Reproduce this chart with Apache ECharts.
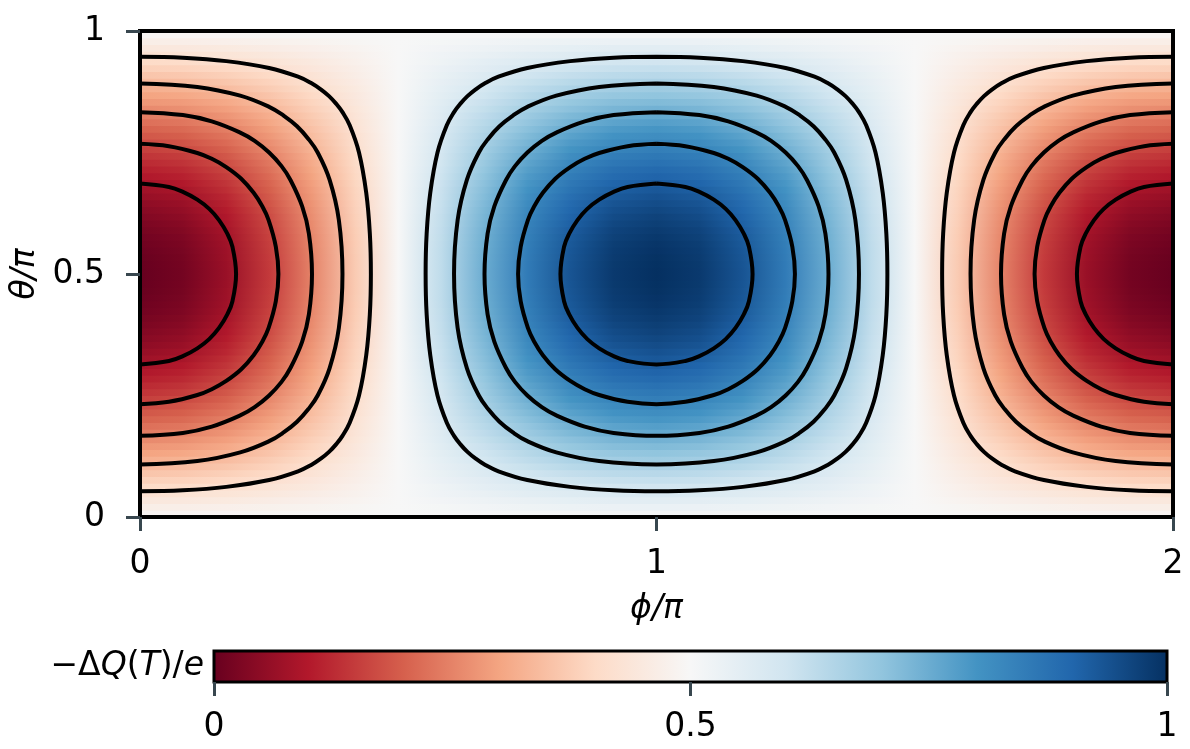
<!DOCTYPE html>
<html>
<head>
<meta charset="utf-8">
<script src="https://cdn.jsdelivr.net/npm/echarts@6/dist/echarts.min.js"></script>
<style>
  html, body { margin: 0; padding: 0; background: #fff; }
  #chart { width: 1190px; height: 749px; }
</style>
</head>
<body>
<div id="chart"></div>
<script>
// phi sample positions (in units of pi) for each row of the map
const phiSamples = [0, 0.083, 0.167, 0.25, 0.333, 0.417, 0.5, 0.583, 0.667, 0.75, 0.833, 0.917, 1,
  1.083, 1.167, 1.25, 1.333, 1.417, 1.5, 1.583, 1.667, 1.75, 1.833, 1.917, 2];

// -dQ(T)/e, one row per theta strip, from theta = 0 (bottom) to theta = pi (top)
const heatRows = [
  [0.489,0.490,0.491,0.492,0.495,0.497,0.5,0.503,0.505,0.508,0.509,0.510,0.511,0.510,0.509,0.508,0.505,0.503,0.5,0.497,0.495,0.492,0.491,0.490,0.489],
  [0.467,0.468,0.472,0.477,0.484,0.492,0.5,0.508,0.516,0.523,0.528,0.532,0.533,0.532,0.528,0.523,0.516,0.508,0.5,0.492,0.484,0.477,0.472,0.468,0.467],
  [0.446,0.447,0.453,0.462,0.473,0.486,0.5,0.514,0.527,0.538,0.547,0.553,0.554,0.553,0.547,0.538,0.527,0.514,0.5,0.486,0.473,0.462,0.453,0.447,0.446],
  [0.424,0.427,0.434,0.446,0.462,0.480,0.5,0.520,0.538,0.554,0.566,0.573,0.576,0.573,0.566,0.554,0.538,0.520,0.5,0.480,0.462,0.446,0.434,0.427,0.424],
  [0.402,0.406,0.416,0.431,0.451,0.475,0.5,0.525,0.549,0.569,0.584,0.594,0.598,0.594,0.584,0.569,0.549,0.525,0.5,0.475,0.451,0.431,0.416,0.406,0.402],
  [0.381,0.385,0.397,0.416,0.441,0.469,0.5,0.531,0.559,0.584,0.603,0.615,0.619,0.615,0.603,0.584,0.559,0.531,0.5,0.469,0.441,0.416,0.397,0.385,0.381],
  [0.360,0.365,0.379,0.401,0.430,0.464,0.5,0.536,0.570,0.599,0.621,0.635,0.640,0.635,0.621,0.599,0.570,0.536,0.5,0.464,0.430,0.401,0.379,0.365,0.360],
  [0.339,0.345,0.361,0.386,0.420,0.458,0.5,0.542,0.580,0.614,0.639,0.655,0.661,0.655,0.639,0.614,0.580,0.542,0.5,0.458,0.420,0.386,0.361,0.345,0.339],
  [0.319,0.325,0.343,0.372,0.409,0.453,0.5,0.547,0.591,0.628,0.657,0.675,0.681,0.675,0.657,0.628,0.591,0.547,0.5,0.453,0.409,0.372,0.343,0.325,0.319],
  [0.299,0.306,0.326,0.358,0.399,0.448,0.5,0.552,0.601,0.642,0.674,0.694,0.701,0.694,0.674,0.642,0.601,0.552,0.5,0.448,0.399,0.358,0.326,0.306,0.299],
  [0.279,0.286,0.308,0.344,0.389,0.443,0.5,0.557,0.611,0.656,0.692,0.714,0.721,0.714,0.692,0.656,0.611,0.557,0.5,0.443,0.389,0.344,0.308,0.286,0.279],
  [0.260,0.268,0.292,0.330,0.380,0.438,0.5,0.562,0.620,0.670,0.708,0.732,0.740,0.732,0.708,0.670,0.620,0.562,0.5,0.438,0.380,0.330,0.292,0.268,0.260],
  [0.241,0.249,0.275,0.317,0.370,0.433,0.5,0.567,0.630,0.683,0.725,0.751,0.759,0.751,0.725,0.683,0.630,0.567,0.5,0.433,0.370,0.317,0.275,0.249,0.241],
  [0.222,0.232,0.259,0.304,0.361,0.428,0.5,0.572,0.639,0.696,0.741,0.768,0.778,0.768,0.741,0.696,0.639,0.572,0.5,0.428,0.361,0.304,0.259,0.232,0.222],
  [0.204,0.214,0.244,0.291,0.352,0.424,0.5,0.576,0.648,0.709,0.756,0.786,0.796,0.786,0.756,0.709,0.648,0.576,0.5,0.424,0.352,0.291,0.244,0.214,0.204],
  [0.187,0.198,0.229,0.279,0.344,0.419,0.5,0.581,0.656,0.721,0.771,0.802,0.813,0.802,0.771,0.721,0.656,0.581,0.5,0.419,0.344,0.279,0.229,0.198,0.187],
  [0.170,0.182,0.215,0.267,0.335,0.415,0.5,0.585,0.665,0.733,0.785,0.818,0.830,0.818,0.785,0.733,0.665,0.585,0.5,0.415,0.335,0.267,0.215,0.182,0.170],
  [0.154,0.166,0.201,0.256,0.327,0.411,0.5,0.589,0.673,0.744,0.799,0.834,0.846,0.834,0.799,0.744,0.673,0.589,0.5,0.411,0.327,0.256,0.201,0.166,0.154],
  [0.139,0.151,0.187,0.245,0.319,0.407,0.5,0.593,0.681,0.755,0.813,0.849,0.861,0.849,0.813,0.755,0.681,0.593,0.5,0.407,0.319,0.245,0.187,0.151,0.139],
  [0.124,0.137,0.174,0.234,0.312,0.403,0.5,0.597,0.688,0.766,0.826,0.863,0.876,0.863,0.826,0.766,0.688,0.597,0.5,0.403,0.312,0.234,0.174,0.137,0.124],
  [0.110,0.123,0.162,0.224,0.305,0.399,0.5,0.601,0.695,0.776,0.838,0.877,0.890,0.877,0.838,0.776,0.695,0.601,0.5,0.399,0.305,0.224,0.162,0.123,0.110],
  [0.097,0.111,0.151,0.215,0.298,0.396,0.5,0.604,0.702,0.785,0.849,0.889,0.903,0.889,0.849,0.785,0.702,0.604,0.5,0.396,0.298,0.215,0.151,0.111,0.097],
  [0.084,0.098,0.140,0.206,0.292,0.392,0.5,0.608,0.708,0.794,0.860,0.902,0.916,0.902,0.860,0.794,0.708,0.608,0.5,0.392,0.292,0.206,0.140,0.098,0.084],
  [0.073,0.087,0.130,0.198,0.286,0.389,0.5,0.611,0.714,0.802,0.870,0.913,0.927,0.913,0.870,0.802,0.714,0.611,0.5,0.389,0.286,0.198,0.130,0.087,0.073],
  [0.062,0.077,0.120,0.190,0.281,0.387,0.5,0.613,0.719,0.810,0.880,0.923,0.938,0.923,0.880,0.810,0.719,0.613,0.5,0.387,0.281,0.190,0.120,0.077,0.062],
  [0.052,0.067,0.112,0.183,0.276,0.384,0.5,0.616,0.724,0.817,0.888,0.933,0.948,0.933,0.888,0.817,0.724,0.616,0.5,0.384,0.276,0.183,0.112,0.067,0.052],
  [0.042,0.058,0.104,0.176,0.271,0.382,0.5,0.618,0.729,0.824,0.896,0.942,0.958,0.942,0.896,0.824,0.729,0.618,0.5,0.382,0.271,0.176,0.104,0.058,0.042],
  [0.034,0.050,0.096,0.170,0.267,0.379,0.5,0.621,0.733,0.830,0.904,0.950,0.966,0.950,0.904,0.830,0.733,0.621,0.5,0.379,0.267,0.170,0.096,0.050,0.034],
  [0.027,0.043,0.090,0.165,0.263,0.378,0.5,0.622,0.737,0.835,0.910,0.957,0.973,0.957,0.910,0.835,0.737,0.622,0.5,0.378,0.263,0.165,0.090,0.043,0.027],
  [0.020,0.036,0.084,0.161,0.260,0.376,0.5,0.624,0.740,0.839,0.916,0.964,0.980,0.964,0.916,0.839,0.740,0.624,0.5,0.376,0.260,0.161,0.084,0.036,0.020],
  [0.014,0.031,0.079,0.157,0.257,0.374,0.5,0.626,0.743,0.843,0.921,0.969,0.986,0.969,0.921,0.843,0.743,0.626,0.5,0.374,0.257,0.157,0.079,0.031,0.014],
  [0.010,0.026,0.075,0.153,0.255,0.373,0.5,0.627,0.745,0.847,0.925,0.974,0.990,0.974,0.925,0.847,0.745,0.627,0.5,0.373,0.255,0.153,0.075,0.026,0.010],
  [0.006,0.023,0.072,0.151,0.253,0.372,0.5,0.628,0.747,0.849,0.928,0.977,0.994,0.977,0.928,0.849,0.747,0.628,0.5,0.372,0.253,0.151,0.072,0.023,0.006],
  [0.003,0.020,0.070,0.149,0.252,0.371,0.5,0.629,0.748,0.851,0.930,0.980,0.997,0.980,0.930,0.851,0.748,0.629,0.5,0.371,0.252,0.149,0.070,0.020,0.003],
  [0.001,0.018,0.068,0.147,0.251,0.371,0.5,0.629,0.749,0.853,0.932,0.982,0.999,0.982,0.932,0.853,0.749,0.629,0.5,0.371,0.251,0.147,0.068,0.018,0.001],
  [0.000,0.017,0.067,0.146,0.250,0.371,0.5,0.629,0.750,0.854,0.933,0.983,1.000,0.983,0.933,0.854,0.750,0.629,0.5,0.371,0.250,0.146,0.067,0.017,0.000],
  [0.000,0.017,0.067,0.146,0.250,0.371,0.5,0.629,0.750,0.854,0.933,0.983,1.000,0.983,0.933,0.854,0.750,0.629,0.5,0.371,0.250,0.146,0.067,0.017,0.000],
  [0.001,0.018,0.068,0.147,0.251,0.371,0.5,0.629,0.749,0.853,0.932,0.982,0.999,0.982,0.932,0.853,0.749,0.629,0.5,0.371,0.251,0.147,0.068,0.018,0.001],
  [0.003,0.020,0.070,0.149,0.252,0.371,0.5,0.629,0.748,0.851,0.930,0.980,0.997,0.980,0.930,0.851,0.748,0.629,0.5,0.371,0.252,0.149,0.070,0.020,0.003],
  [0.006,0.023,0.072,0.151,0.253,0.372,0.5,0.628,0.747,0.849,0.928,0.977,0.994,0.977,0.928,0.849,0.747,0.628,0.5,0.372,0.253,0.151,0.072,0.023,0.006],
  [0.010,0.026,0.075,0.153,0.255,0.373,0.5,0.627,0.745,0.847,0.925,0.974,0.990,0.974,0.925,0.847,0.745,0.627,0.5,0.373,0.255,0.153,0.075,0.026,0.010],
  [0.014,0.031,0.079,0.157,0.257,0.374,0.5,0.626,0.743,0.843,0.921,0.969,0.986,0.969,0.921,0.843,0.743,0.626,0.5,0.374,0.257,0.157,0.079,0.031,0.014],
  [0.020,0.036,0.084,0.161,0.260,0.376,0.5,0.624,0.740,0.839,0.916,0.964,0.980,0.964,0.916,0.839,0.740,0.624,0.5,0.376,0.260,0.161,0.084,0.036,0.020],
  [0.027,0.043,0.090,0.165,0.263,0.378,0.5,0.622,0.737,0.835,0.910,0.957,0.973,0.957,0.910,0.835,0.737,0.622,0.5,0.378,0.263,0.165,0.090,0.043,0.027],
  [0.034,0.050,0.096,0.170,0.267,0.379,0.5,0.621,0.733,0.830,0.904,0.950,0.966,0.950,0.904,0.830,0.733,0.621,0.5,0.379,0.267,0.170,0.096,0.050,0.034],
  [0.042,0.058,0.104,0.176,0.271,0.382,0.5,0.618,0.729,0.824,0.896,0.942,0.958,0.942,0.896,0.824,0.729,0.618,0.5,0.382,0.271,0.176,0.104,0.058,0.042],
  [0.052,0.067,0.112,0.183,0.276,0.384,0.5,0.616,0.724,0.817,0.888,0.933,0.948,0.933,0.888,0.817,0.724,0.616,0.5,0.384,0.276,0.183,0.112,0.067,0.052],
  [0.062,0.077,0.120,0.190,0.281,0.387,0.5,0.613,0.719,0.810,0.880,0.923,0.938,0.923,0.880,0.810,0.719,0.613,0.5,0.387,0.281,0.190,0.120,0.077,0.062],
  [0.073,0.087,0.130,0.198,0.286,0.389,0.5,0.611,0.714,0.802,0.870,0.913,0.927,0.913,0.870,0.802,0.714,0.611,0.5,0.389,0.286,0.198,0.130,0.087,0.073],
  [0.084,0.098,0.140,0.206,0.292,0.392,0.5,0.608,0.708,0.794,0.860,0.902,0.916,0.902,0.860,0.794,0.708,0.608,0.5,0.392,0.292,0.206,0.140,0.098,0.084],
  [0.097,0.111,0.151,0.215,0.298,0.396,0.5,0.604,0.702,0.785,0.849,0.889,0.903,0.889,0.849,0.785,0.702,0.604,0.5,0.396,0.298,0.215,0.151,0.111,0.097],
  [0.110,0.123,0.162,0.224,0.305,0.399,0.5,0.601,0.695,0.776,0.838,0.877,0.890,0.877,0.838,0.776,0.695,0.601,0.5,0.399,0.305,0.224,0.162,0.123,0.110],
  [0.124,0.137,0.174,0.234,0.312,0.403,0.5,0.597,0.688,0.766,0.826,0.863,0.876,0.863,0.826,0.766,0.688,0.597,0.5,0.403,0.312,0.234,0.174,0.137,0.124],
  [0.139,0.151,0.187,0.245,0.319,0.407,0.5,0.593,0.681,0.755,0.813,0.849,0.861,0.849,0.813,0.755,0.681,0.593,0.5,0.407,0.319,0.245,0.187,0.151,0.139],
  [0.154,0.166,0.201,0.256,0.327,0.411,0.5,0.589,0.673,0.744,0.799,0.834,0.846,0.834,0.799,0.744,0.673,0.589,0.5,0.411,0.327,0.256,0.201,0.166,0.154],
  [0.170,0.182,0.215,0.267,0.335,0.415,0.5,0.585,0.665,0.733,0.785,0.818,0.830,0.818,0.785,0.733,0.665,0.585,0.5,0.415,0.335,0.267,0.215,0.182,0.170],
  [0.187,0.198,0.229,0.279,0.344,0.419,0.5,0.581,0.656,0.721,0.771,0.802,0.813,0.802,0.771,0.721,0.656,0.581,0.5,0.419,0.344,0.279,0.229,0.198,0.187],
  [0.204,0.214,0.244,0.291,0.352,0.424,0.5,0.576,0.648,0.709,0.756,0.786,0.796,0.786,0.756,0.709,0.648,0.576,0.5,0.424,0.352,0.291,0.244,0.214,0.204],
  [0.222,0.232,0.259,0.304,0.361,0.428,0.5,0.572,0.639,0.696,0.741,0.768,0.778,0.768,0.741,0.696,0.639,0.572,0.5,0.428,0.361,0.304,0.259,0.232,0.222],
  [0.241,0.249,0.275,0.317,0.370,0.433,0.5,0.567,0.630,0.683,0.725,0.751,0.759,0.751,0.725,0.683,0.630,0.567,0.5,0.433,0.370,0.317,0.275,0.249,0.241],
  [0.260,0.268,0.292,0.330,0.380,0.438,0.5,0.562,0.620,0.670,0.708,0.732,0.740,0.732,0.708,0.670,0.620,0.562,0.5,0.438,0.380,0.330,0.292,0.268,0.260],
  [0.279,0.286,0.308,0.344,0.389,0.443,0.5,0.557,0.611,0.656,0.692,0.714,0.721,0.714,0.692,0.656,0.611,0.557,0.5,0.443,0.389,0.344,0.308,0.286,0.279],
  [0.299,0.306,0.326,0.358,0.399,0.448,0.5,0.552,0.601,0.642,0.674,0.694,0.701,0.694,0.674,0.642,0.601,0.552,0.5,0.448,0.399,0.358,0.326,0.306,0.299],
  [0.319,0.325,0.343,0.372,0.409,0.453,0.5,0.547,0.591,0.628,0.657,0.675,0.681,0.675,0.657,0.628,0.591,0.547,0.5,0.453,0.409,0.372,0.343,0.325,0.319],
  [0.339,0.345,0.361,0.386,0.420,0.458,0.5,0.542,0.580,0.614,0.639,0.655,0.661,0.655,0.639,0.614,0.580,0.542,0.5,0.458,0.420,0.386,0.361,0.345,0.339],
  [0.360,0.365,0.379,0.401,0.430,0.464,0.5,0.536,0.570,0.599,0.621,0.635,0.640,0.635,0.621,0.599,0.570,0.536,0.5,0.464,0.430,0.401,0.379,0.365,0.360],
  [0.381,0.385,0.397,0.416,0.441,0.469,0.5,0.531,0.559,0.584,0.603,0.615,0.619,0.615,0.603,0.584,0.559,0.531,0.5,0.469,0.441,0.416,0.397,0.385,0.381],
  [0.402,0.406,0.416,0.431,0.451,0.475,0.5,0.525,0.549,0.569,0.584,0.594,0.598,0.594,0.584,0.569,0.549,0.525,0.5,0.475,0.451,0.431,0.416,0.406,0.402],
  [0.424,0.427,0.434,0.446,0.462,0.480,0.5,0.520,0.538,0.554,0.566,0.573,0.576,0.573,0.566,0.554,0.538,0.520,0.5,0.480,0.462,0.446,0.434,0.427,0.424],
  [0.446,0.447,0.453,0.462,0.473,0.486,0.5,0.514,0.527,0.538,0.547,0.553,0.554,0.553,0.547,0.538,0.527,0.514,0.5,0.486,0.473,0.462,0.453,0.447,0.446],
  [0.467,0.468,0.472,0.477,0.484,0.492,0.5,0.508,0.516,0.523,0.528,0.532,0.533,0.532,0.528,0.523,0.516,0.508,0.5,0.492,0.484,0.477,0.472,0.468,0.467],
  [0.489,0.490,0.491,0.492,0.495,0.497,0.5,0.503,0.505,0.508,0.509,0.510,0.511,0.510,0.509,0.508,0.505,0.503,0.5,0.497,0.495,0.492,0.491,0.490,0.489]
];

// contour lines [phi/pi, theta/pi], levels 11/12 ... 7/12 around the blue centre
const blueContours = [
  [[1,0.686],[1.056,0.679],[1.083,0.669],[1.111,0.653],[1.134,0.634],[1.153,0.611],[1.169,0.583],[1.179,0.556],[1.186,0.5],[1.179,0.444],[1.169,0.417],[1.153,0.389],[1.134,0.366],[1.111,0.347],[1.083,0.331],[1.056,0.321],[1,0.314],[0.944,0.321],[0.917,0.331],[0.889,0.347],[0.866,0.366],[0.847,0.389],[0.831,0.417],[0.821,0.444],[0.814,0.5],[0.821,0.556],[0.831,0.583],[0.847,0.611],[0.866,0.634],[0.889,0.653],[0.917,0.669],[0.944,0.679],[1,0.686]],
  [[1,0.768],[1.056,0.763],[1.111,0.749],[1.139,0.737],[1.167,0.720],[1.196,0.696],[1.220,0.667],[1.237,0.639],[1.249,0.611],[1.263,0.556],[1.268,0.5],[1.263,0.444],[1.249,0.389],[1.237,0.361],[1.220,0.333],[1.196,0.304],[1.167,0.280],[1.139,0.263],[1.111,0.251],[1.056,0.237],[1,0.232],[0.944,0.237],[0.889,0.251],[0.861,0.263],[0.833,0.280],[0.804,0.304],[0.780,0.333],[0.763,0.361],[0.751,0.389],[0.737,0.444],[0.732,0.5],[0.737,0.556],[0.751,0.611],[0.763,0.639],[0.780,0.667],[0.804,0.696],[0.833,0.720],[0.861,0.737],[0.889,0.749],[0.944,0.763],[1,0.768]],
  [[1,0.833],[1.083,0.827],[1.139,0.814],[1.194,0.791],[1.222,0.774],[1.25,0.75],[1.274,0.722],[1.291,0.694],[1.314,0.639],[1.327,0.583],[1.333,0.5],[1.327,0.417],[1.314,0.361],[1.291,0.306],[1.274,0.278],[1.25,0.25],[1.222,0.226],[1.194,0.209],[1.139,0.186],[1.083,0.173],[1,0.167],[0.917,0.173],[0.861,0.186],[0.806,0.209],[0.778,0.226],[0.75,0.25],[0.726,0.278],[0.709,0.306],[0.686,0.361],[0.673,0.417],[0.667,0.5],[0.673,0.583],[0.686,0.639],[0.709,0.694],[0.726,0.722],[0.75,0.75],[0.778,0.774],[0.806,0.791],[0.861,0.814],[0.917,0.827],[1,0.833]],
  [[1,0.892],[1.111,0.885],[1.194,0.867],[1.25,0.844],[1.278,0.826],[1.304,0.804],[1.326,0.778],[1.344,0.75],[1.367,0.694],[1.385,0.611],[1.392,0.5],[1.385,0.389],[1.367,0.306],[1.344,0.25],[1.326,0.222],[1.304,0.196],[1.278,0.174],[1.25,0.156],[1.194,0.133],[1.111,0.115],[1,0.108],[0.889,0.115],[0.806,0.133],[0.75,0.156],[0.722,0.174],[0.696,0.196],[0.674,0.222],[0.656,0.25],[0.633,0.306],[0.615,0.389],[0.608,0.5],[0.615,0.611],[0.633,0.694],[0.656,0.75],[0.674,0.778],[0.696,0.804],[0.722,0.826],[0.75,0.844],[0.806,0.867],[0.889,0.885],[1,0.892]],
  [[1,0.947],[1.083,0.945],[1.167,0.938],[1.25,0.924],[1.306,0.906],[1.333,0.892],[1.350,0.880],[1.366,0.866],[1.380,0.850],[1.392,0.833],[1.406,0.806],[1.424,0.75],[1.438,0.667],[1.445,0.583],[1.447,0.5],[1.445,0.417],[1.438,0.333],[1.424,0.25],[1.406,0.194],[1.392,0.167],[1.380,0.150],[1.366,0.134],[1.350,0.120],[1.333,0.108],[1.306,0.094],[1.25,0.076],[1.167,0.062],[1.083,0.055],[1,0.053],[0.917,0.055],[0.833,0.062],[0.75,0.076],[0.694,0.094],[0.667,0.108],[0.650,0.120],[0.634,0.134],[0.620,0.150],[0.608,0.167],[0.594,0.194],[0.576,0.25],[0.562,0.333],[0.555,0.417],[0.553,0.5],[0.555,0.583],[0.562,0.667],[0.576,0.75],[0.594,0.806],[0.608,0.833],[0.620,0.850],[0.634,0.866],[0.650,0.880],[0.667,0.892],[0.694,0.906],[0.75,0.924],[0.833,0.938],[0.917,0.945],[1,0.947]]
];

// contour lines around the red half-centres at phi = 0 and phi = 2
const redContoursLeft = [
  [[0,0.686],[0.056,0.679],[0.083,0.669],[0.111,0.653],[0.134,0.634],[0.153,0.611],[0.169,0.583],[0.179,0.556],[0.186,0.5],[0.179,0.444],[0.169,0.417],[0.153,0.389],[0.134,0.366],[0.111,0.347],[0.083,0.331],[0.056,0.321],[0,0.314]],
  [[0,0.768],[0.056,0.763],[0.111,0.749],[0.139,0.737],[0.167,0.720],[0.196,0.696],[0.220,0.667],[0.237,0.639],[0.249,0.611],[0.263,0.556],[0.268,0.5],[0.263,0.444],[0.249,0.389],[0.237,0.361],[0.220,0.333],[0.196,0.304],[0.167,0.280],[0.139,0.263],[0.111,0.251],[0.056,0.237],[0,0.232]],
  [[0,0.833],[0.083,0.827],[0.139,0.814],[0.194,0.791],[0.222,0.774],[0.25,0.75],[0.274,0.722],[0.291,0.694],[0.314,0.639],[0.327,0.583],[0.333,0.5],[0.327,0.417],[0.314,0.361],[0.291,0.306],[0.274,0.278],[0.25,0.25],[0.222,0.226],[0.194,0.209],[0.139,0.186],[0.083,0.173],[0,0.167]],
  [[0,0.892],[0.111,0.885],[0.194,0.867],[0.25,0.844],[0.278,0.826],[0.304,0.804],[0.326,0.778],[0.344,0.75],[0.367,0.694],[0.385,0.611],[0.392,0.5],[0.385,0.389],[0.367,0.306],[0.344,0.25],[0.326,0.222],[0.304,0.196],[0.278,0.174],[0.25,0.156],[0.194,0.133],[0.111,0.115],[0,0.108]],
  [[0,0.947],[0.083,0.945],[0.167,0.938],[0.25,0.924],[0.306,0.906],[0.333,0.892],[0.350,0.880],[0.366,0.866],[0.380,0.850],[0.392,0.833],[0.406,0.806],[0.424,0.75],[0.438,0.667],[0.445,0.583],[0.447,0.5],[0.445,0.417],[0.438,0.333],[0.424,0.25],[0.406,0.194],[0.392,0.167],[0.380,0.150],[0.366,0.134],[0.350,0.120],[0.333,0.108],[0.306,0.094],[0.25,0.076],[0.167,0.062],[0.083,0.055],[0,0.053]]
];
const redContoursRight = [
  [[2,0.686],[1.944,0.679],[1.917,0.669],[1.889,0.653],[1.866,0.634],[1.847,0.611],[1.831,0.583],[1.821,0.556],[1.814,0.5],[1.821,0.444],[1.831,0.417],[1.847,0.389],[1.866,0.366],[1.889,0.347],[1.917,0.331],[1.944,0.321],[2,0.314]],
  [[2,0.768],[1.944,0.763],[1.889,0.749],[1.861,0.737],[1.833,0.720],[1.804,0.696],[1.780,0.667],[1.763,0.639],[1.751,0.611],[1.737,0.556],[1.732,0.5],[1.737,0.444],[1.751,0.389],[1.763,0.361],[1.780,0.333],[1.804,0.304],[1.833,0.280],[1.861,0.263],[1.889,0.251],[1.944,0.237],[2,0.232]],
  [[2,0.833],[1.917,0.827],[1.861,0.814],[1.806,0.791],[1.778,0.774],[1.75,0.75],[1.726,0.722],[1.709,0.694],[1.686,0.639],[1.673,0.583],[1.667,0.5],[1.673,0.417],[1.686,0.361],[1.709,0.306],[1.726,0.278],[1.75,0.25],[1.778,0.226],[1.806,0.209],[1.861,0.186],[1.917,0.173],[2,0.167]],
  [[2,0.892],[1.889,0.885],[1.806,0.867],[1.75,0.844],[1.722,0.826],[1.696,0.804],[1.674,0.778],[1.656,0.75],[1.633,0.694],[1.615,0.611],[1.608,0.5],[1.615,0.389],[1.633,0.306],[1.656,0.25],[1.674,0.222],[1.696,0.196],[1.722,0.174],[1.75,0.156],[1.806,0.133],[1.889,0.115],[2,0.108]],
  [[2,0.947],[1.917,0.945],[1.833,0.938],[1.75,0.924],[1.694,0.906],[1.667,0.892],[1.650,0.880],[1.634,0.866],[1.620,0.850],[1.608,0.833],[1.594,0.806],[1.576,0.75],[1.562,0.667],[1.555,0.583],[1.553,0.5],[1.555,0.417],[1.562,0.333],[1.576,0.25],[1.594,0.194],[1.608,0.167],[1.620,0.150],[1.634,0.134],[1.650,0.120],[1.667,0.108],[1.694,0.094],[1.75,0.076],[1.833,0.062],[1.917,0.055],[2,0.053]]
];

// RdBu colour map
const rdbu = ['#67001f', '#b2182b', '#d6604d', '#f4a582', '#fddbc7', '#f7f7f7',
  '#d1e5f0', '#92c5de', '#4393c3', '#2166ac', '#053061'];

const rdbuRgb = rdbu.map(h => [1, 3, 5].map(i => parseInt(h.slice(i, i + 2), 16)));
function cmap(v) {
  const t = Math.min(Math.max(v, 0), 1) * (rdbuRgb.length - 1);
  const i = Math.min(Math.floor(t), rdbuRgb.length - 2);
  const f = t - i;
  const a = rdbuRgb[i], b = rdbuRgb[i + 1];
  return 'rgb(' + a.map((c, k) => Math.round(c + (b[k] - c) * f)).join(',') + ')';
}

const FONT = 'DejaVu Sans';
const TICK = '#38474f';

const chart = echarts.init(document.getElementById('chart'));

const contourSeries = [...blueContours, ...redContoursLeft, ...redContoursRight].map(path => ({
  type: 'line',
  xAxisIndex: 0,
  yAxisIndex: 0,
  data: path,
  smooth: 0.4,
  symbol: 'none',
  silent: true,
  z: 4,
  lineStyle: { color: '#000', width: 4 }
}));

const borderLine = { onZero: false, lineStyle: { color: '#000', width: 4, cap: 'square' } };

const option = {
  animation: false,
  backgroundColor: '#fff',
  grid: [
    { left: 140, top: 31, width: 1033, height: 486, outerBoundsMode: 'none' },
    { left: 214, top: 651, width: 953, height: 31, outerBoundsMode: 'none' }
  ],
  xAxis: [
    {
      gridIndex: 0, type: 'value', min: 0, max: 2, interval: 1, position: 'bottom', z: 10,
      name: 'ϕ/π', nameLocation: 'middle', nameGap: 76,
      nameTextStyle: { fontFamily: FONT, fontSize: 33, fontStyle: 'italic', color: '#000' },
      axisLine: borderLine,
      axisTick: { length: 14, lineStyle: { color: TICK, width: 3 } },
      axisLabel: { fontFamily: FONT, fontSize: 33, color: '#000', margin: 31 },
      splitLine: { show: false }
    },
    {
      gridIndex: 0, type: 'value', min: 0, max: 2, position: 'top', z: 10,
      axisLine: borderLine,
      axisTick: { show: false }, axisLabel: { show: false }, splitLine: { show: false }
    },
    {
      gridIndex: 1, type: 'value', min: 0, max: 1, interval: 0.5, position: 'bottom', z: 10,
      axisLine: { show: false, onZero: false },
      axisTick: { length: 14, lineStyle: { color: TICK, width: 3 } },
      axisLabel: { fontFamily: FONT, fontSize: 33, color: '#000', margin: 29 },
      splitLine: { show: false }
    }
  ],
  yAxis: [
    {
      gridIndex: 0, type: 'value', min: 0, max: 1, interval: 0.5, position: 'left', z: 10,
      name: 'θ/π', nameLocation: 'middle', nameGap: 97,
      nameTextStyle: { fontFamily: FONT, fontSize: 33, fontStyle: 'italic', color: '#000' },
      axisLine: borderLine,
      axisTick: { length: 14, lineStyle: { color: TICK, width: 3 } },
      axisLabel: { fontFamily: FONT, fontSize: 33, color: '#000', margin: 35 },
      splitLine: { show: false }
    },
    {
      gridIndex: 0, type: 'value', min: 0, max: 1, position: 'right', z: 10,
      axisLine: borderLine,
      axisTick: { show: false }, axisLabel: { show: false }, splitLine: { show: false }
    },
    {
      gridIndex: 1, type: 'value', min: 0, max: 1, position: 'left',
      name: '{u|−Δ}{i|Q}{u|(}{i|T}{u|)/}{i|e}', nameLocation: 'middle', nameRotate: 0, nameGap: 10,
      nameTextStyle: {
        fontFamily: FONT, fontSize: 33, color: '#000', align: 'right',
        rich: {
          u: { fontFamily: FONT, fontSize: 33, color: '#000' },
          i: { fontFamily: FONT, fontSize: 33, color: '#000', fontStyle: 'italic' }
        }
      },
      axisLine: { show: false, onZero: false }, axisTick: { show: false }, axisLabel: { show: false }, splitLine: { show: false }
    }
  ],
  series: [
    {
      // the colour map, one horizontal strip per theta row
      type: 'custom',
      xAxisIndex: 0,
      yAxisIndex: 0,
      silent: true,
      z: 1,
      data: heatRows.map((row, j) => j),
      renderItem: function (params, api) {
        const j = params.dataIndex;
        const row = heatRows[j];
        const n = heatRows.length;
        const pTop = api.coord([0, (j + 1) / n]);
        const pBot = api.coord([2, j / n]);
        return {
          type: 'rect',
          shape: { x: pTop[0], y: pTop[1] - 0.6, width: pBot[0] - pTop[0], height: pBot[1] - pTop[1] + 1.2 },
          style: {
            fill: new echarts.graphic.LinearGradient(0, 0, 1, 0,
              row.map((v, k) => ({ offset: phiSamples[k] / 2, color: cmap(v) })))
          }
        };
      }
    },
    {
      // colour bar
      type: 'custom',
      xAxisIndex: 2,
      yAxisIndex: 2,
      silent: true,
      z: 2,
      data: [0],
      renderItem: function (params, api) {
        const p0 = api.coord([0, 1]);
        const p1 = api.coord([1, 0]);
        return {
          type: 'rect',
          shape: { x: p0[0], y: p0[1], width: p1[0] - p0[0], height: p1[1] - p0[1] },
          style: {
            fill: new echarts.graphic.LinearGradient(0, 0, 1, 0,
              rdbu.map((c, k) => ({ offset: k / (rdbu.length - 1), color: c }))),
            stroke: '#000',
            lineWidth: 3
          }
        };
      }
    },
    ...contourSeries
  ]
};

chart.setOption(option);
</script>
</body>
</html>
